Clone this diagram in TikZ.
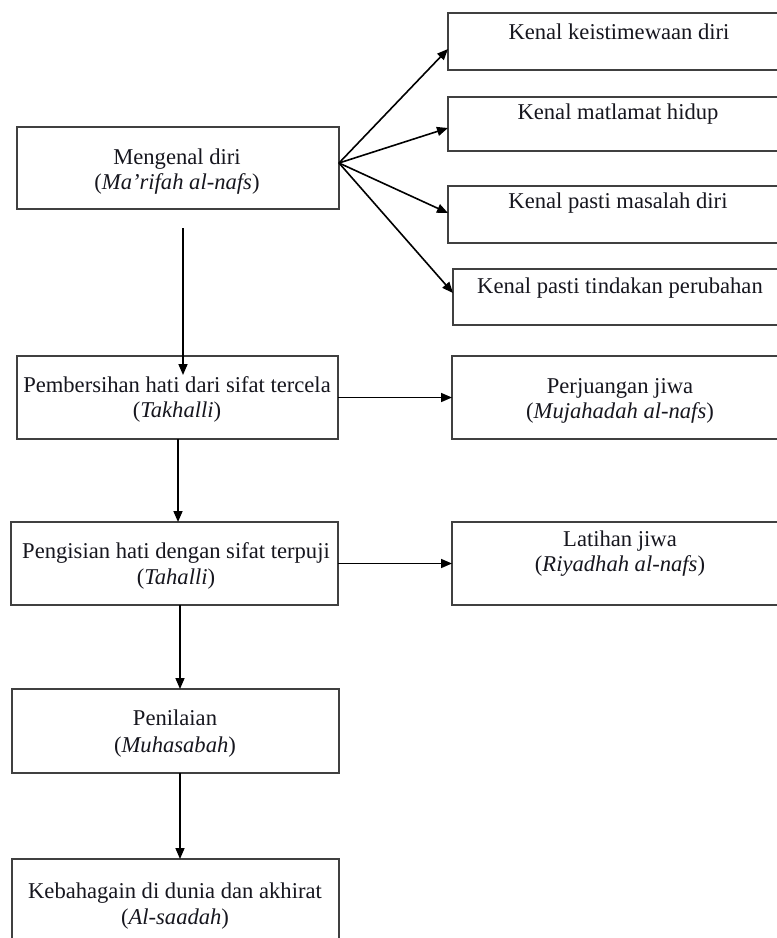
\documentclass[tikz,border=0pt]{standalone}
\usepackage{fontspec}
\setmainfont{Liberation Serif}
\usetikzlibrary{arrows.meta,calc}
\definecolor{boxgray}{HTML}{404040}
\definecolor{inkc}{HTML}{16161E}
\begin{document}
\begin{tikzpicture}[x=1pt,y=-1pt,
  box/.style={draw=boxgray,line width=1.7pt,inner sep=0pt,outer sep=0pt},
  lbl/.style={font=\fontsize{22.6}{26}\selectfont,text=inkc,anchor=base,inner sep=0pt},
  arr/.style={draw=black,line width=1.6pt,-{Triangle[length=11pt,width=9pt]}}]
\clip (0,0) rectangle (777,938);
\fill[white] (0,0) rectangle (777,938);
% left column boxes
\node[box,minimum width=322pt,minimum height=82pt] (men) at (178,168) {};
\node[box,minimum width=321pt,minimum height=83pt] (pem) at (177.5,397.5) {};
\node[box,minimum width=327pt,minimum height=83pt] (pgs) at (174.5,563.5) {};
\node[box,minimum width=327pt,minimum height=84pt] (pnl) at (175.5,731) {};
\node[box,minimum width=327pt,minimum height=91pt] (keb) at (175.5,904.5) {};
% right column boxes
\node[box,minimum width=342pt,minimum height=57pt] (b1) at (619,41.5) {};
\node[box,minimum width=342pt,minimum height=54pt] (b2) at (619,124) {};
\node[box,minimum width=342pt,minimum height=57pt] (b3) at (619,214.5) {};
\node[box,minimum width=337pt,minimum height=56pt] (b4) at (621.5,297) {};
\node[box,minimum width=338pt,minimum height=83pt] (perj) at (621,397.5) {};
\node[box,minimum width=338pt,minimum height=83pt] (lat) at (621,563.5) {};
% texts
\node[lbl] (b1t) at (619,39) {Kenal keistimewaan diri};
\node[lbl] (b2t) at (618,119) {Kenal matlamat hidup};
\node[lbl] (b3t) at (618,208) {Kenal pasti masalah diri};
\node[lbl] (b4t) at (620,293) {Kenal pasti tindakan perubahan};
\node[lbl] (men1) at (177,164) {Mengenal diri};
\node[lbl] (men2) at (177,189) {(\textit{Ma’rifah al-nafs})};
\node[lbl] (pem1) at (177,392) {Pembersihan hati dari sifat tercela};
\node[lbl] (pem2) at (177,417) {(\textit{Takhalli})};
\node[lbl] (perj1) at (620,393) {Perjuangan jiwa};
\node[lbl] (perj2) at (620,418) {(\textit{Mujahadah al-nafs})};
\node[lbl] (pgs1) at (176,558) {Pengisian hati dengan sifat terpuji};
\node[lbl] (pgs2) at (176,584) {(\textit{Tahalli})};
\node[lbl] (lat1) at (620,546) {Latihan jiwa};
\node[lbl] (lat2) at (620,571) {(\textit{Riyadhah al-nafs})};
\node[lbl] (pnl1) at (175,725) {Penilaian};
\node[lbl] (pnl2) at (175,752) {(\textit{Muhasabah})};
\node[lbl] (keb1) at (175,898) {Kebahagain di dunia dan akhirat};
\node[lbl] (keb2) at (175,924) {(\textit{Al-saadah})};
% fan connectors
\coordinate (fan) at ($(men.east)+(0,-5)$);
\draw[arr] (fan) -- ($(b1.west)+(0,7.5)$);
\draw[arr] (fan) -- ($(b2.west)+(0,4)$);
\draw[arr] (fan) -- ($(b3.west)+(0,-1.5)$);
\draw[arr] (fan) -- ($(b4.west)+(0,-4)$);
% vertical connectors
\coordinate (a1s) at (183,228);
\coordinate (a1e) at ($(pem.north -| a1s)+(0,19)$);
\draw[arr] (a1s) -- (a1e);
\coordinate (a2) at ($(pgs.north)+(3.5,0)$);
\draw[arr] (a2 |- pem.south) -- (a2);
\coordinate (a3) at ($(pnl.north)+(4.5,0)$);
\draw[arr] (a3 |- pgs.south) -- (a3);
\coordinate (a4) at ($(keb.north)+(4.5,0)$);
\draw[arr] (a4 |- pnl.south) -- (a4);
% horizontal connectors
\draw[arr] (pem.east) -- (pem.east -| perj.west);
\draw[arr] (pgs.east) -- (pgs.east -| lat.west);
\end{tikzpicture}
\end{document}
